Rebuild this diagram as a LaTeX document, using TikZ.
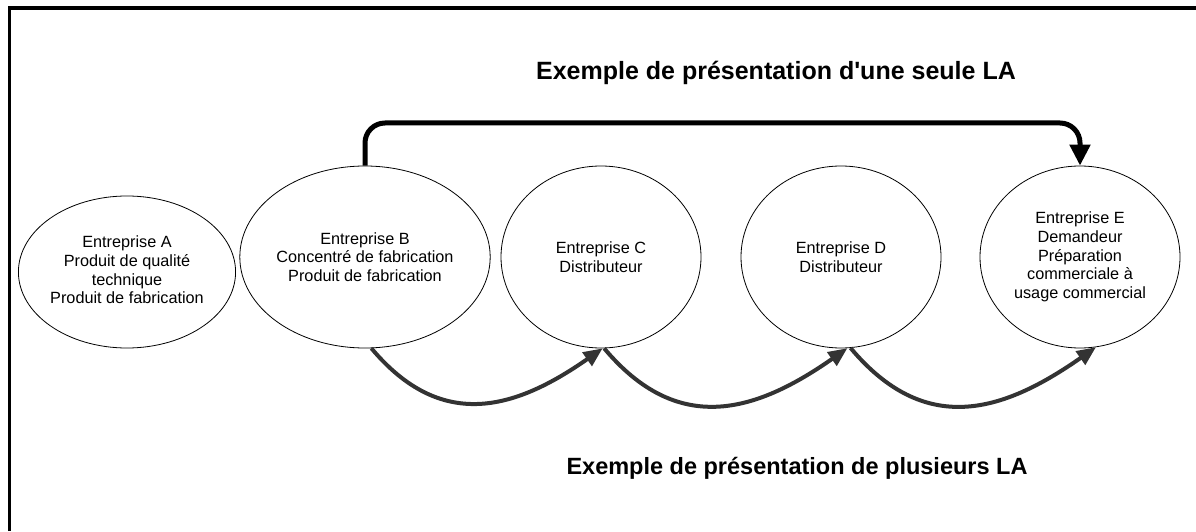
\documentclass[tikz,border=0pt]{standalone}
\usepackage{fontspec}
\setmainfont{Liberation Sans}
\usetikzlibrary{shapes.geometric,arrows.meta}

\tikzset{
	entreprise/.style={ellipse, draw, line width=0.8pt, inner sep=0pt,
		minimum width=200pt, minimum height=182pt, align=center,
		font=\fontsize{16.25}{18.7}\selectfont},
	titre/.style={font=\fontsize{24}{28}\selectfont\bfseries},
	topline/.style={line width=5pt, rounded corners=20pt,
		-{Triangle[length=21pt,width=20pt]}},
	lowarrow/.style={line width=4pt, draw=black!80,
		-{Triangle[length=19pt,width=16pt]}, looseness=1.2},
}

\begin{document}
\begin{tikzpicture}[x=1pt, y=1pt]
	\useasboundingbox (0,0) rectangle (1196,531);
	\draw[line width=3.5pt] (9.5,0) -- (9.5,523) -- (1196,523);

	\node[entreprise, minimum width=202pt, minimum height=152pt] (entA) at (127, 259)
		{\raisebox{13pt}{\begin{tabular}{@{}c@{}}Entreprise A\\Produit de qualité\\technique\\Produit de fabrication\end{tabular}}};
	\node[entreprise] (entB) at (365, 274)
		{Entreprise B\\Concentré de fabrication\\Produit de fabrication};
	\node[entreprise] (entC) at (601, 274) {Entreprise C\\Distributeur};
	\node[entreprise] (entD) at (841, 274) {Entreprise D\\Distributeur};
	\node[entreprise] (entE) at (1080, 274)
		{Entreprise E\\Demandeur\\Préparation\\commerciale à\\usage commercial};

	\node[titre, font=\fontsize{25}{29}\selectfont\bfseries] (titreHaut) at (776, 458)
		{Exemple de présentation d\textquotesingle une seule LA};
	\node[titre, font=\fontsize{23.5}{28}\selectfont\bfseries] (titreBas) at (797, 63)
		{Exemple de présentation de plusieurs LA};

	\coordinate (sommet) at (720, 408);
	\draw[topline] (entB.north) |- (sommet) -| (entE.north);

	\draw[lowarrow] (entB.-86) to[out=-50, in=-145] (entC.-89);
	\draw[lowarrow] (entC.-88) to[out=-50, in=-145] (entD.-86);
	\draw[lowarrow] (entD.-84) to[out=-50, in=-145] (entE.-80);
\end{tikzpicture}
\end{document}
